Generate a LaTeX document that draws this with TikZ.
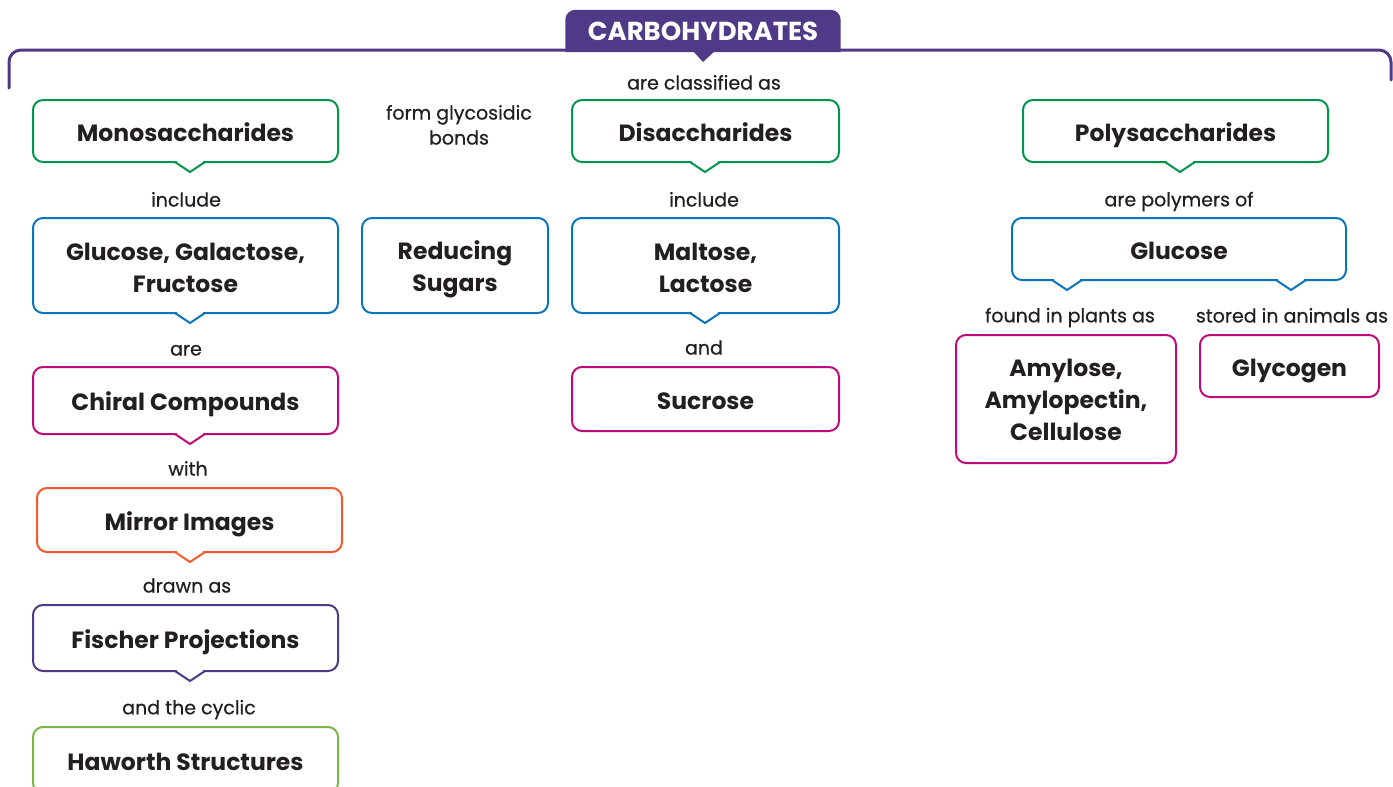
\documentclass[tikz,border=0pt]{standalone}
\usepackage{fontspec}
\setmainfont{Poppins}
\newfontfamily\lblfont[FakeBold=0.6]{Poppins}
\usepackage{tikz}
\usetikzlibrary{backgrounds, calc}

\definecolor{cgreen}{HTML}{00964B}
\definecolor{cblue}{HTML}{0A74BC}
\definecolor{cmagenta}{HTML}{BF0A7A}
\definecolor{corange}{HTML}{F15A29}
\definecolor{cpurple}{HTML}{4E3A86}
\definecolor{clime}{HTML}{7AB648}
\definecolor{ctext}{HTML}{231F20}

% white gap in the bottom edge, then a small V below it
\newcommand{\notch}[3]{%
  \draw[white, line width=3.5pt] ($(#1.south -| #2,0)+(-13pt,0)$) -- ($(#1.south -| #2,0)+(13pt,0)$);
  \draw[#3, line width=2pt, line join=miter] ($(#1.south -| #2,0)+(-15pt,0)$) -- ++(15pt,-10pt) -- ++(15pt,10pt);
}

\begin{document}
\begin{tikzpicture}[
    x=1pt, y=-1pt,
    every node/.style={text=ctext},
    concept/.style={rectangle, draw=#1, line width=2pt, outer sep=0pt, rounded corners=10pt, fill=white, align=center,
                    font=\bfseries\fontsize{23.5}{32}\selectfont,
                    execute at begin node={\rule{0pt}{27pt}}, execute at end node={\rule[-6pt]{0pt}{6pt}}},
    tall/.style={execute at begin node={\rule{0pt}{#1}}},
    label/.style={font=\lblfont\fontsize{19}{25}\selectfont, align=center,
                  execute at begin node={\rule{0pt}{17.5pt}}, execute at end node={\rule[-4.5pt]{0pt}{4.5pt}}},
    titlebox/.style={rectangle, minimum width=275pt, minimum height=42pt, text=white,
                     font=\bfseries\fontsize{26}{30}\selectfont}
]
\useasboundingbox (0,0) rectangle (1393,787);

% Title and bracket
\node[titlebox] (title) at (703,31) {CARBOHYDRATES};
\begin{scope}[on background layer]
  \fill[cpurple] (title.south west) [rounded corners=10pt] -- (title.north west) -- (title.north east) [sharp corners] -- (title.south east) -- cycle;
  \fill[cpurple] (692,50) -- (703,62) -- (716,50) -- cycle;
  \draw[cpurple, line width=3pt, line cap=round, rounded corners=12pt] (9,88) -- (9,50) -- (1391,50) -- (1391,80);
\end{scope}
\node[label] (classified) at (704,83) {are classified as};

% Monosaccharides column
\node[concept=cgreen, minimum width=305pt, minimum height=62pt] (mono) at (185.5,131) {Monosaccharides};
\node[label] (incl1) at (186,200) {include};
\node[concept=cblue, tall=59pt, minimum width=305pt, minimum height=95pt] (hexoses) at (185.5,265.5) {Glucose, Galactose,\\Fructose};
\node[label] (are) at (186,349) {are};
\node[concept=cmagenta, minimum width=305pt, minimum height=67pt] (chiral) at (185.5,400.5) {Chiral Compounds};
\node[label] (with) at (188,469) {with};
\node[concept=corange, minimum width=305pt, minimum height=64pt] (mirror) at (189.5,520) {Mirror Images};
\node[label] (drawn) at (187,586) {drawn as};
\node[concept=cpurple, minimum width=305pt, minimum height=66pt] (fischer) at (185.5,638) {Fischer Projections};
\node[label] (cyclic) at (189,708) {and the cyclic};
\node[concept=clime, minimum width=305pt, minimum height=66pt] (haworth) at (185.5,760) {Haworth Structures};

% Reducing sugars
\node[label] (glyco) at (459,127) {form glycosidic\\bonds};
\node[concept=cblue, tall=59pt, minimum width=186pt, minimum height=95pt] (reducing) at (455,265.5) {Reducing\\Sugars};

% Disaccharides column
\node[concept=cgreen, minimum width=267pt, minimum height=62pt] (di) at (705.5,131) {Disaccharides};
\node[label] (incl2) at (704,200) {include};
\node[concept=cblue, tall=59pt, minimum width=267pt, minimum height=95pt] (maltose) at (705.5,265.5) {Maltose,\\Lactose};
\node[label] (and) at (704,348) {and};
\node[concept=cmagenta, minimum width=267pt, minimum height=64pt] (sucrose) at (705.5,399) {Sucrose};

% Polysaccharides column
\node[concept=cgreen, minimum width=305pt, minimum height=62pt] (poly) at (1175.5,131) {Polysaccharides};
\node[label] (polymers) at (1179,200) {are polymers of};
\node[concept=cblue, minimum width=334pt, minimum height=62pt] (glucose) at (1179,249) {Glucose};
\node[label] (plants) at (1070,316) {found in plants as};
\node[label] (animals) at (1292,316) {stored in animals as};
\node[concept=cmagenta, tall=88.5pt, minimum width=220pt, minimum height=128pt] (starch) at (1066,399) {Amylose,\\Amylopectin,\\Cellulose};
\node[concept=cmagenta, minimum width=179pt, minimum height=62pt] (glycogen) at (1289.5,366) {Glycogen};

% notches
\notch{mono}{190}{cgreen}
\notch{hexoses}{190}{cblue}
\notch{chiral}{190}{cmagenta}
\notch{mirror}{190}{corange}
\notch{fischer}{190}{cpurple}
\notch{di}{705}{cgreen}
\notch{maltose}{705}{cblue}
\notch{poly}{1180}{cgreen}
\notch{glucose}{1067}{cblue}
\notch{glucose}{1291}{cblue}

\end{tikzpicture}
\end{document}
